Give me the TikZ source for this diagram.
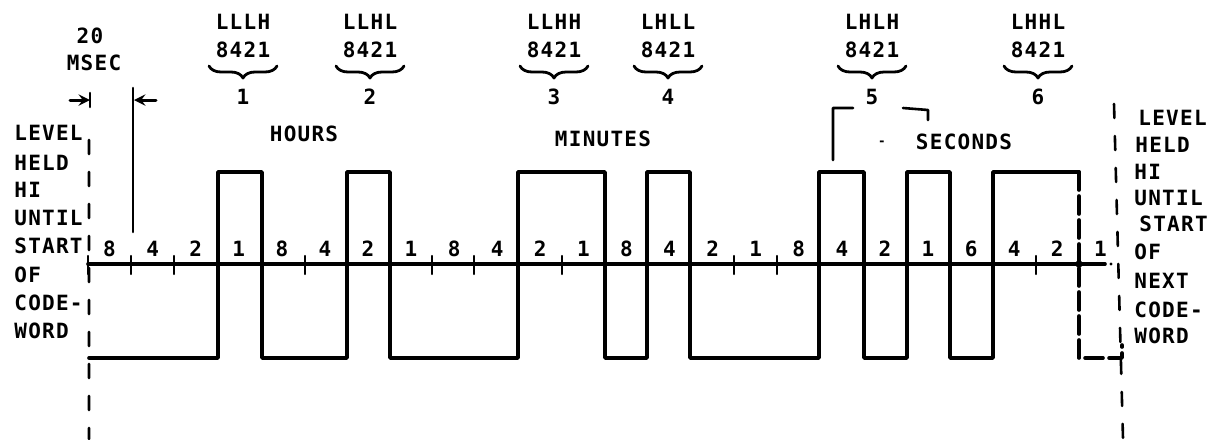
\documentclass[tikz,border=0pt]{standalone}
\usepackage{fontspec}
\setmainfont{DejaVu Sans Mono}[LetterSpace=6]
\usetikzlibrary{decorations.pathreplacing}
\begin{document}
\begin{tikzpicture}[>=stealth,line join=round,line cap=round,x=0.5pt,y=-0.5pt,inner sep=0pt,
	font=\fontsize{10.5}{12}\selectfont\bfseries,
	wave/.style={line width=1.8pt},
	bnd/.style={line width=1.3pt,dash pattern=on 7pt off 9pt},
	brc/.style={line width=1.4pt,decorate,decoration={brace,mirror,amplitude=6pt}}]
	\useasboundingbox (0,0) rectangle (1209,439);
	% time axis and bit cells
	\draw[wave] (88,264)--(1105,264);
	\fill (1111,264) circle (0.8pt) (1079,264) circle (1.8pt);
	\foreach \x in {88,131,174,305,432,474,562,734,777,1036}
		\draw[line width=1.1pt] (\x,256)--(\x,274);
	\foreach \l [count=\i from 0] in {8,4,2,1,8,4,2,1,8,4,2,1,8,4,2,1,8,4,2,1,6,4,2,1}
		\node (b\i) at ({109.5+43.08*\i},249) {\l};
	% code word
	\draw[wave] (89,358)--(218,358)--(218,172)--(262,172)--(262,358)--(347,358)--(347,172)--(390,172)--(390,358)
		--(518,358)--(518,172)--(605,172)--(605,358)--(647,358)--(647,172)--(690,172)--(690,358)
		--(819,358)--(819,172)--(864,172)--(864,358)--(907,358)--(907,172)--(950,172)--(950,358)
		--(993,358)--(993,172)--(1079,172);
	\draw[wave,dash pattern=on 9pt off 3pt] (1079,172)--(1079,358)--(1122,358)--(1122,345);
	\draw[bnd] (89,140)--(89,439) (1114,104)--(1123,439);
	% 20 msec
	\node (t20) at (90,36) {20};
	\node (tms) at (94,63) {MSEC};
	\draw[->,line width=1.5pt] (70,100)--(90,100);
	\draw[line width=1.3pt] (90,93)--(90,107);
	\draw[<-,line width=1.5pt] (134,100)--(156,100);
	\draw[line width=1.3pt] (133,88)--(133,232);
	% digits
	\foreach \x/\c/\n in {243/LLLH/1,370/LLHL/2,554/LLHH/3,668/LHLL/4,872/LHLH/5,1038/LHHL/6}{
		\node (c\n) at (\x,22) {\c};
		\node (w\n) at (\x,50) {8421};
		\draw[brc] (\x-34,66)--(\x+34,66);
		\node (d\n) at (\x,97) {\n};
	}
	\node (hrs) at (304,134) {HOURS};
	\node (min) at (603,139) {MINUTES};
	\node (sec) at (964,142) {SECONDS};
	\node[scale=0.6] (eq) at (882,143) {-};
	\draw[line width=1.3pt] (833,160)--(833,108)--(853,108) (903,108)--(928,110)--(928,120);
	% side notes
	\foreach \t/\y [count=\k] in {LEVEL/133,HELD/163,HI/190,UNTIL/218,START/246,OF/275,CODE-/303,WORD/331}
		\node[anchor=west] (l\k) at (14,\y) {\t};
	\foreach \t/\x/\y [count=\k] in {LEVEL/1138/118,HELD/1135/145,HI/1134/172,UNTIL/1134/198,START/1139/224,OF/1134/252,NEXT/1134/281,CODE-/1134/310,WORD/1134/336}
		\node[anchor=west] (r\k) at (\x,\y) {\t};
\end{tikzpicture}
\end{document}
